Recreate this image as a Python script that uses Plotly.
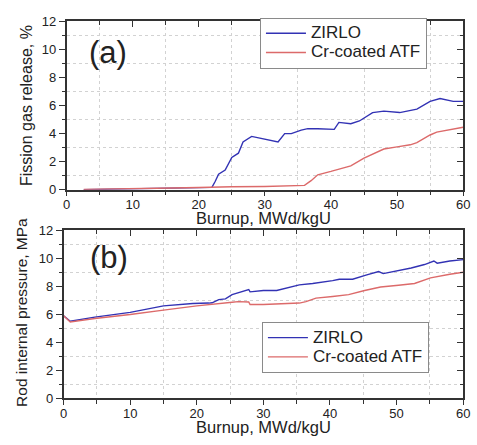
import plotly.graph_objects as go

# Panel (a): fission gas release (%) vs burnup (MWd/kgU)
a_zirlo_x = [2.6, 10, 20, 22, 22.5, 23, 24, 24.5, 25, 26, 26.7, 28, 30, 32, 33, 34, 35.5, 36.5, 38, 40, 40.5, 41.2, 43, 44.3, 46.3, 48, 50.4, 53, 55, 56.5, 58.5, 60]
a_zirlo_y = [0.0, 0.05, 0.12, 0.16, 0.6, 1.1, 1.4, 1.8, 2.3, 2.6, 3.4, 3.8, 3.6, 3.4, 4.0, 4.0, 4.25, 4.35, 4.35, 4.3, 4.3, 4.8, 4.7, 4.9, 5.5, 5.6, 5.5, 5.75, 6.3, 6.5, 6.3, 6.3]
a_atf_x = [2.6, 5, 8, 10, 13, 16, 20, 22, 25, 30, 35, 36, 37, 38, 40, 41, 43, 45, 47, 48, 50, 52, 53, 55, 56, 58, 60]
a_atf_y = [0.02, 0.03, 0.05, 0.08, 0.1, 0.12, 0.15, 0.18, 0.2, 0.22, 0.25, 0.3, 0.64, 1.06, 1.3, 1.45, 1.7, 2.25, 2.7, 2.9, 3.05, 3.2, 3.35, 3.9, 4.1, 4.3, 4.45]

# Panel (b): rod internal pressure (MPa) vs burnup
b_zirlo_x = [0, 1, 4.7, 10, 15, 17, 19.4, 21.8, 22.3, 23.3, 24.3, 25.3, 26.2, 26.8, 27.8, 28.0, 30, 32, 33.5, 35.4, 37.4, 39.4, 40.4, 41.4, 43.4, 45.4, 47.3, 48, 50.3, 52.2, 54.2, 55.6, 56.1, 58, 60]
b_zirlo_y = [5.9, 5.5, 5.8, 6.14, 6.6, 6.7, 6.77, 6.8, 6.82, 7.05, 7.1, 7.4, 7.55, 7.6, 7.77, 7.6, 7.7, 7.7, 7.9, 8.1, 8.2, 8.3, 8.4, 8.5, 8.5, 8.8, 9.05, 8.9, 9.1, 9.3, 9.55, 9.8, 9.65, 9.8, 9.9]
b_atf_x = [0, 1, 4.7, 10, 15, 20, 25.3, 26.2, 27.8, 28, 30, 32, 35.4, 36.4, 37.9, 40.4, 42.8, 45.2, 47.6, 50.3, 52.7, 55.1, 56.1, 58, 60]
b_atf_y = [5.9, 5.45, 5.7, 5.98, 6.3, 6.6, 6.86, 6.9, 6.88, 6.7, 6.7, 6.75, 6.8, 6.9, 7.15, 7.27, 7.4, 7.7, 7.95, 8.07, 8.2, 8.6, 8.7, 8.86, 9.0]

series_names = ["ZIRLO", "Cr-coated ATF"]
x_title = "Burnup, MWd/kgU"
y_title_a = "Fission gas release, %"
y_title_b = "Rod internal pressure, MPa"

BLUE = "#3232b4"
RED = "#dc6a6a"
AX = "#333333"
TXT = "#222222"
GRID = "#d2d2d2"
FONT = "Liberation Sans, Arial, sans-serif"

W, H = 477, 445
def px(x0, x1):
    return [x0 / W, x1 / W]
def py(top, bot):
    return [1 - bot / H, 1 - top / H]

def lname(s):
    # larger text inside a compact legend row
    return f"<span style='font-size:17px'>{s}</span>"

fig = go.Figure()
fig.add_trace(go.Scatter(x=a_zirlo_x, y=a_zirlo_y, mode="lines", name=lname(series_names[0]),
                         line=dict(color=BLUE, width=1.4), xaxis="x", yaxis="y", legend="legend"))
fig.add_trace(go.Scatter(x=a_atf_x, y=a_atf_y, mode="lines", name=lname(series_names[1]),
                         line=dict(color=RED, width=1.4), xaxis="x", yaxis="y", legend="legend"))
fig.add_trace(go.Scatter(x=b_zirlo_x, y=b_zirlo_y, mode="lines", name=lname(series_names[0]),
                         line=dict(color=BLUE, width=1.4), xaxis="x2", yaxis="y2", legend="legend2"))
fig.add_trace(go.Scatter(x=b_atf_x, y=b_atf_y, mode="lines", name=lname(series_names[1]),
                         line=dict(color=RED, width=1.4), xaxis="x2", yaxis="y2", legend="legend2"))
# empty traces so the mirrored (top/right) tick axes get drawn
fig.add_trace(go.Scatter(x=[], y=[], xaxis="x3", yaxis="y3", showlegend=False, hoverinfo="skip"))
fig.add_trace(go.Scatter(x=[], y=[], xaxis="x4", yaxis="y4", showlegend=False, hoverinfo="skip"))

tickfont = dict(family=FONT, size=13, color=TXT)

def xax(domain, anchor):
    return dict(domain=domain, anchor=anchor, range=[0, 60], dtick=10, tick0=0,
                ticks="outside", ticklen=5, tickwidth=1.3, tickcolor=AX,
                showline=True, linecolor=AX, linewidth=1.5, mirror=True,
                showgrid=False, zeroline=False, tickfont=tickfont,
                ticklabeloverflow="allow", ticklabelstandoff=-3,
                minor=dict(dtick=5, ticks="outside", ticklen=4, tickcolor=AX,
                           showgrid=True, gridcolor=GRID, griddash="dot", gridwidth=1))

def yax(domain, anchor):
    return dict(domain=domain, anchor=anchor, range=[0, 12], dtick=2, tick0=0,
                ticks="outside", ticklen=6, tickwidth=1.3, tickcolor=AX,
                showline=True, linecolor=AX, linewidth=1.5, mirror=True,
                showgrid=False, zeroline=False, tickfont=tickfont,
                ticklabeloverflow="allow",
                minor=dict(dtick=1, ticks="outside", ticklen=3, tickcolor=AX,
                           showgrid=True, gridcolor=GRID, griddash="dot", gridwidth=1))

def xover(domain, anchor, over):
    return dict(domain=domain, anchor=anchor, overlaying=over, side="top", range=[0, 60],
                dtick=10, tick0=0, ticks="inside", ticklen=6, tickwidth=1.3, tickcolor=AX,
                showticklabels=False, showline=False, showgrid=False, zeroline=False,
                minor=dict(dtick=5, ticks="inside", ticklen=4, tickcolor=AX, showgrid=False))

def yover(domain, anchor, over):
    return dict(domain=domain, anchor=anchor, overlaying=over, side="right", range=[0, 12],
                dtick=2, tick0=0, ticks="inside", ticklen=6, tickwidth=1.3, tickcolor=AX,
                showticklabels=False, showline=False, showgrid=False, zeroline=False,
                minor=dict(dtick=1, ticks="inside", ticklen=3, tickcolor=AX, showgrid=False))

dxa, dya = px(64, 470), py(15, 189)
dxb, dyb = px(61, 470), py(231, 405)

legfont = dict(family=FONT, size=12.5, color=TXT)
fig.update_layout(
    width=W, height=H, margin=dict(l=0, r=0, t=0, b=0),
    paper_bgcolor="white", plot_bgcolor="white",
    font=dict(family=FONT, color=AX),
    xaxis=xax(dxa, "y"), yaxis=yax(dya, "x"),
    xaxis2=xax(dxb, "y2"), yaxis2=yax(dyb, "x2"),
    xaxis3=xover(dxa, "y3", "x"), yaxis3=yover(dya, "x3", "y"),
    xaxis4=xover(dxb, "y4", "x2"), yaxis4=yover(dyb, "x4", "y2"),
    legend=dict(x=262 / W, y=1 - 11 / H, xanchor="left", yanchor="top",
                bgcolor="white", bordercolor="#8a8a8a", borderwidth=1,
                font=legfont, tracegroupgap=0, itemwidth=40),
    legend2=dict(x=264 / W, y=1 - 326 / H, xanchor="left", yanchor="top",
                 bgcolor="white", bordercolor="#8a8a8a", borderwidth=1,
                 font=legfont, tracegroupgap=0, itemwidth=40),
    showlegend=True,
)

ann = [
    dict(text="(a)", x=106 / W, y=1 - 47 / H, size=31),
    dict(text="(b)", x=107 / W, y=1 - 259 / H, size=31),
    dict(text=x_title, x=265.5 / W, y=1 - 218 / H, size=16.5),
    dict(text=x_title, x=265.5 / W, y=1 - 435 / H, size=16.5),
]
for a in ann:
    fig.add_annotation(text=a["text"], x=a["x"], y=a["y"], xref="paper", yref="paper",
                       xanchor="center", yanchor="middle", showarrow=False,
                       font=dict(family=FONT, size=a["size"], color=TXT))
fig.add_annotation(text=y_title_a, x=23 / W, y=1 - 102 / H, xref="paper", yref="paper",
                   textangle=-90, showarrow=False, xanchor="center", yanchor="middle",
                   font=dict(family=FONT, size=16, color=TXT))
fig.add_annotation(text=y_title_b, x=18 / W, y=1 - 316 / H, xref="paper", yref="paper",
                   textangle=-90, showarrow=False, xanchor="center", yanchor="middle",
                   font=dict(family=FONT, size=15.5, color=TXT))

fig.write_html("out.html", post_script="document.body.style.margin='0';",
               config={"displayModeBar": False})
